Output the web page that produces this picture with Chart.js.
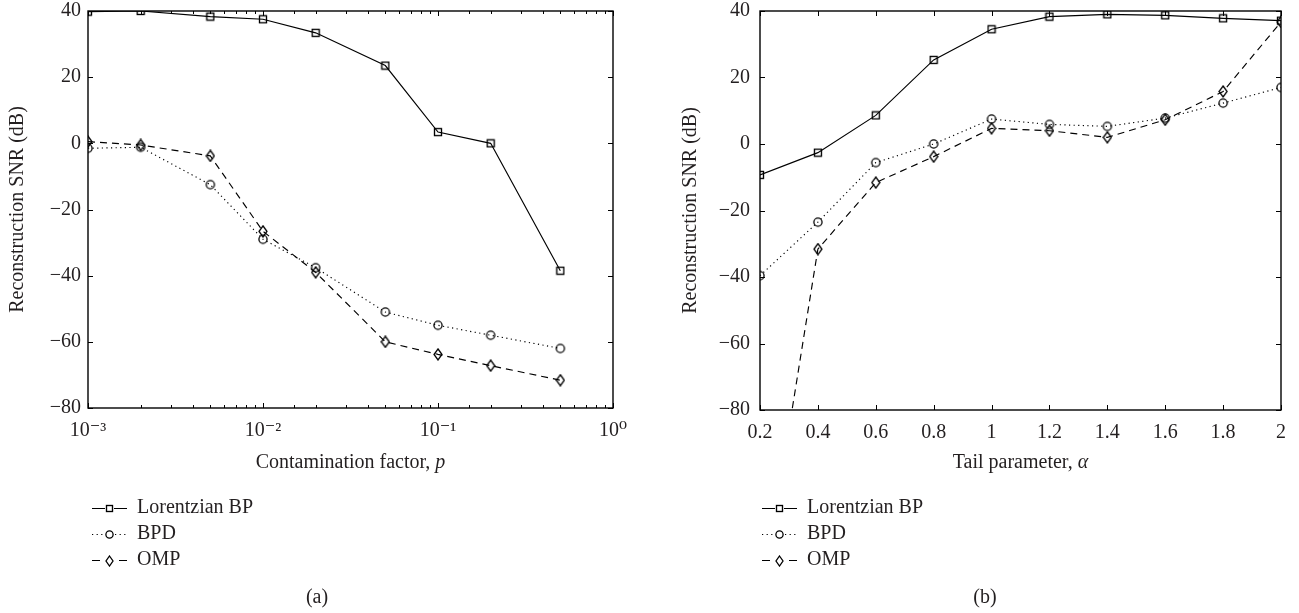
<!DOCTYPE html>
<html><head><meta charset="utf-8">
<script src="https://cdn.jsdelivr.net/npm/chart.js@4.4.0/dist/chart.umd.min.js"></script>
<style>
html,body{margin:0;padding:0;background:#fff;}
#wrapA{position:absolute;left:0;top:0;width:650px;height:613px;}
#wrapB{position:absolute;left:650px;top:0;width:649px;height:613px;}
</style></head><body>
<div id="wrapA"><canvas id="cA"></canvas></div>
<div id="wrapB"><canvas id="cB"></canvas></div>
<script>
// ---------- data ----------
const seriesNames = ['Lorentzian BP', 'BPD', 'OMP'];

// panel (a): contamination factor p (log axis)
const pValues   = [0.001, 0.002, 0.005, 0.01, 0.02, 0.05, 0.1, 0.2, 0.5];
const lorentzA  = [39.8, 40.0, 38.3, 37.5, 33.4, 23.5, 3.4, 0.0, -38.5];
const bpdA      = [-1.5, -1.2, -12.5, -29.0, -37.6, -51.0, -55.0, -58.0, -62.0];
const ompA      = [0.5, -0.5, -3.8, -26.6, -39.0, -60.0, -63.8, -67.2, -71.6];

// panel (b): tail parameter alpha
const alphaValues = [0.2, 0.4, 0.6, 0.8, 1.0, 1.2, 1.4, 1.6, 1.8, 2.0];
const lorentzB    = [-9.3, -2.6, 8.6, 25.3, 34.5, 38.3, 39.0, 38.7, 37.8, 37.1];
const bpdB        = [-39.6, -23.5, -5.6, 0.0, 7.5, 5.9, 5.3, 7.8, 12.3, 17.0];
const ompB        = [-140.0, -31.6, -11.6, -3.8, 4.7, 4.0, 2.0, 7.3, 15.8, 36.7];

// ticks
const yTickValues = [-80, -60, -40, -20, 0, 20, 40];
const logTickValues = [0.001, 0.01, 0.1, 1];
const logTickLabels = ['10\u207B\u00B3', '10\u207B\u00B2', '10\u207B\u00B9', '10\u2070'];
const alphaTickValues = [0.2, 0.4, 0.6, 0.8, 1, 1.2, 1.4, 1.6, 1.8, 2];
const alphaTickLabels = ['0.2', '0.4', '0.6', '0.8', '1', '1.2', '1.4', '1.6', '1.8', '2'];

const yTitle = 'Reconstruction SNR (dB)';
const xTitleA = [['Contamination factor, ', false], ['p', true]];
const xTitleB = [['Tail parameter, ', false], ['\u03B1', true]];
const captions = ['(a)', '(b)'];

// ---------- styling ----------
const FF = "'Liberation Serif', 'DejaVu Serif', serif";
const TXT = '#231f20';
const FS = 20;

function marker(kind, small) {
  const c = document.createElement('canvas');
  const ctx = c.getContext('2d');
  ctx.strokeStyle = '#000';
  if (kind === 'sq') {
    const s = small ? 6 : 7;
    c.width = s + 3; c.height = s + 3;
    ctx.strokeStyle = '#000'; ctx.lineWidth = 1.35;
    ctx.strokeRect(1.5, 1.5, s, s);
  } else if (kind === 'ci') {
    const r = small ? 3.6 : 4.1;
    const n = Math.ceil(r * 2 + 3);
    c.width = n; c.height = n;
    ctx.strokeStyle = '#000'; ctx.lineWidth = 1.3;
    ctx.beginPath(); ctx.arc(n / 2, n / 2, r, 0, Math.PI * 2); ctx.stroke();
  } else {
    const w = small ? 7 : 8, h = small ? 10 : 11;
    c.width = w + 2; c.height = h + 2;
    ctx.strokeStyle = '#000'; ctx.lineWidth = 1.3;
    ctx.beginPath();
    ctx.moveTo(1 + w / 2, 1); ctx.lineTo(1 + w, 1 + h / 2);
    ctx.lineTo(1 + w / 2, 1 + h); ctx.lineTo(1, 1 + h / 2);
    ctx.closePath(); ctx.stroke();
  }
  return c;
}
const markers = [marker('sq'), marker('ci'), marker('di')];
const legendMarkers = [marker('sq', true), marker('ci', true), marker('di', true)];
const dashes = [[], [1.2, 3.4], [7, 5]];

function makeDatasets(xs, ys) {
  return ys.map((arr, k) => ({
    label: seriesNames[k],
    data: xs.map((x, i) => ({ x: x, y: arr[i] })),
    borderColor: '#000',
    backgroundColor: 'rgba(0,0,0,0)',
    borderWidth: 1.15,
    borderDash: dashes[k],
    pointStyle: markers[k],
    pointRadius: 5,
    pointHoverRadius: 5,
    fill: false,
    tension: 0
  }));
}

const decor = {
  id: 'decor',
  afterDraw(chart, args, o) {
    const ctx = chart.ctx;
    const { left, right, top, bottom } = chart.chartArea;
    const xs = chart.scales.x, ys = chart.scales.y;
    ctx.save();
    ctx.strokeStyle = '#000';
    ctx.lineWidth = 1;
    ctx.beginPath();
    xs.ticks.forEach(t => {
      const v = t.value;
      const px = Math.round(xs.getPixelForValue(v)) + 0.5;
      if (px < left - 0.6 || px > right + 0.6) return;
      let len = 5;
      if (o.log) {
        const e = Math.log10(v);
        len = Math.abs(e - Math.round(e)) < 1e-6 ? 5 : 3;
      }
      ctx.moveTo(px, bottom); ctx.lineTo(px, bottom - len);
      ctx.moveTo(px, top); ctx.lineTo(px, top + len);
    });
    ys.ticks.forEach(t => {
      const py = Math.round(ys.getPixelForValue(t.value)) + 0.5;
      ctx.moveTo(left, py); ctx.lineTo(left + 5, py);
      ctx.moveTo(right, py); ctx.lineTo(right - 5, py);
    });
    ctx.stroke();
    ctx.lineWidth = 1.4;
    ctx.strokeRect(left, top, right - left, bottom - top);

    // x-axis title (mixed italic)
    ctx.fillStyle = TXT;
    ctx.textBaseline = 'middle';
    ctx.textAlign = 'left';
    let total = 0;
    const parts = o.title.map(([s, it]) => {
      ctx.font = (it ? 'italic ' : '') + FS + 'px ' + FF;
      const w = ctx.measureText(s).width; total += w; return [s, it, w];
    });
    let cx = (left + right) / 2 - total / 2;
    parts.forEach(([s, it, w]) => {
      ctx.font = (it ? 'italic ' : '') + FS + 'px ' + FF;
      ctx.fillText(s, cx, o.titleY); cx += w;
    });

    // legend
    chart.data.datasets.forEach((ds, k) => {
      const y = o.legendY + k * o.legendDy;
      const x0 = o.legendX, x1 = o.legendX + 35;
      ctx.save();
      ctx.lineWidth = 1.1;
      ctx.setLineDash(k === 2 ? [8, 19] : ds.borderDash);
      ctx.beginPath(); ctx.moveTo(x0, y + 0.5); ctx.lineTo(x1, y + 0.5); ctx.stroke();
      ctx.restore();
      const m = legendMarkers[k];
      ctx.fillStyle = '#fff';
      ctx.fillRect(x0 + 17.5 - m.width / 2, y - m.height / 2, m.width, m.height);
      ctx.drawImage(m, Math.round(x0 + 17.5 - m.width / 2), Math.round(y + 0.5 - m.height / 2));
      ctx.fillStyle = TXT;
      ctx.font = FS + 'px ' + FF;
      ctx.textAlign = 'left';
      ctx.fillText(ds.label, o.legendX + 45, y);
    });

    // caption
    ctx.textAlign = 'center';
    ctx.font = FS + 'px ' + FF;
    ctx.fillText(o.caption, o.captionX, o.captionY);
    ctx.restore();
  }
};

function yScale(width, labelPad, titlePad) {
  return {
    type: 'linear', min: -80, max: 40,
    grid: { display: false, drawTicks: false }, border: { display: false },
    afterBuildTicks: s => { s.ticks = yTickValues.map(v => ({ value: v })); },
    ticks: {
      padding: labelPad, color: TXT, font: { family: FF, size: FS },
      callback: v => (v < 0 ? '\u2212' + Math.abs(v) : String(v))
    },
    title: { display: true, text: yTitle, color: TXT, font: { family: FF, size: FS }, padding: { top: titlePad, bottom: 0 } },
    afterFit: s => { s.width = width; s.paddingTop = 0; s.paddingBottom = 0; }
  };
}

function baseOptions(xScale, yS, padding, decorOpts) {
  return {
    responsive: true, maintainAspectRatio: false, animation: false,
    events: [],
    layout: { padding: padding },
    scales: { x: xScale, y: yS },
    plugins: { legend: { display: false }, tooltip: { enabled: false }, decor: decorOpts }
  };
}

// ---------- chart (a) ----------
new Chart(document.getElementById('cA'), {
  type: 'line',
  data: { datasets: makeDatasets(pValues, [lorentzA, bpdA, ompA]) },
  options: baseOptions(
    {
      type: 'logarithmic', min: 0.001, max: 1,
      grid: { display: false, drawTicks: false }, border: { display: false },
      ticks: {
        autoSkip: false, maxRotation: 0, padding: 11, color: TXT, font: { family: FF, size: FS },
        callback: v => {
          const i = logTickValues.findIndex(t => Math.abs(t - v) / t < 1e-6);
          return i >= 0 ? logTickLabels[i] : '';
        }
      },
      afterFit: s => { s.height = 40; s.paddingLeft = 0; s.paddingRight = 0; }
    },
    yScale(88, 7, 6),
    { left: 0, top: 11, right: 37, bottom: 165 },
    { log: true, title: xTitleA, titleY: 463, legendX: 92, legendY: 508, legendDy: 26, caption: captions[0], captionX: 317, captionY: 598 }
  ),
  plugins: [decor]
});

// ---------- chart (b) ----------
new Chart(document.getElementById('cB'), {
  type: 'line',
  data: { datasets: makeDatasets(alphaValues, [lorentzB, bpdB, ompB]) },
  options: baseOptions(
    {
      type: 'linear', min: 0.2, max: 2,
      grid: { display: false, drawTicks: false }, border: { display: false },
      afterBuildTicks: s => { s.ticks = alphaTickValues.map(v => ({ value: v })); },
      ticks: {
        autoSkip: false, maxRotation: 0, padding: 11, color: TXT, font: { family: FF, size: FS },
        callback: (v, i) => alphaTickLabels[i]
      },
      afterFit: s => { s.height = 40; s.paddingLeft = 0; s.paddingRight = 0; }
    },
    yScale(110, 10, 29),
    { left: 0, top: 11, right: 18, bottom: 163 },
    { log: false, title: xTitleB, titleY: 463, legendX: 112, legendY: 508, legendDy: 26, caption: captions[1], captionX: 335, captionY: 598 }
  ),
  plugins: [decor]
});
</script>
</body></html>
